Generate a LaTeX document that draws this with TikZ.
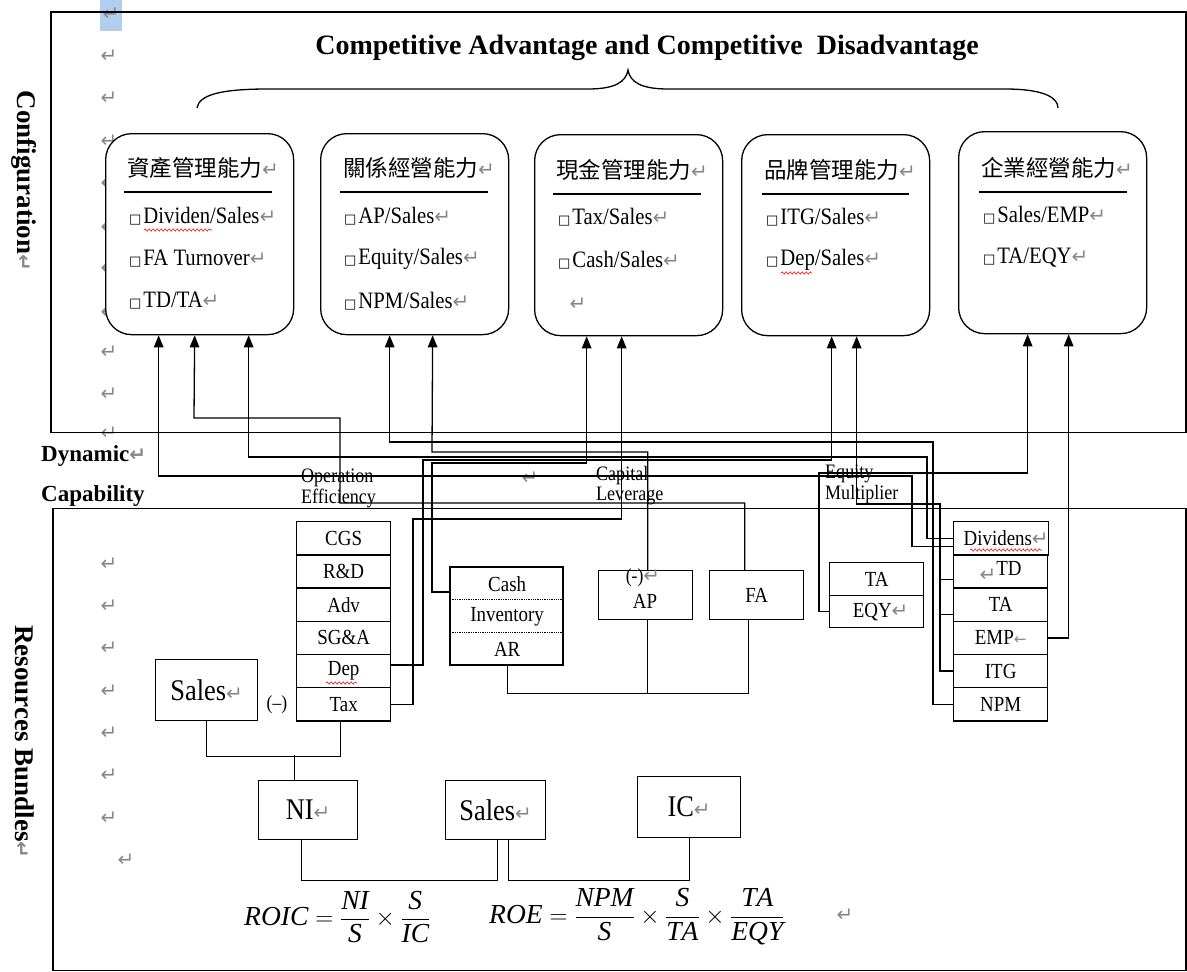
\documentclass[tikz,border=0pt]{standalone}
\usepackage{fontspec}
\setmainfont{Liberation Serif}
\newfontfamily\nar[FakeStretch=0.88]{Liberation Serif}
\newfontfamily\cjkf{Noto Sans CJK TC}
\newfontfamily\symf{DejaVu Sans}
\usetikzlibrary{arrows.meta,decorations.pathmorphing}
\definecolor{markgray}{RGB}{135,135,135}
\definecolor{selblue}{RGB}{178,206,238}
\newcommand\mk{{\symf\fontsize{20}{20}\selectfont\textcolor{markgray}{↵}}}
\newcommand\lmk{{\symf\fontsize{15}{15}\selectfont\textcolor{markgray}{←}}}
\newcommand\sq{{\symf\fontsize{13}{13}\selectfont □}\hspace{2pt}}
\begin{document}
\begin{tikzpicture}[x=1pt,y=-1pt,
  ln/.style={line width=1.3pt},
  arr/.style={ln,-{Triangle[length=12pt,width=9.5pt]}},
  cbox/.style={draw,fill=white,line width=1.3pt,rounded corners=26pt,minimum width=188pt,minimum height=201pt,anchor=north west,inner sep=0pt},
  cell/.style={draw,line width=1.3pt,minimum width=94pt,minimum height=33.2pt,inner sep=0pt,anchor=north west,font=\nar\fontsize{21.5}{21.5}\selectfont},
  big/.style={draw,line width=1.3pt,inner sep=0pt,anchor=north west,font=\nar\fontsize{30}{30}\selectfont},
  ctitle/.style={anchor=west,inner sep=0pt,font=\cjkf\fontsize{22.5}{22.5}\selectfont},
  item/.style={anchor=west,inner sep=0pt,font=\nar\fontsize{23.5}{23.5}\selectfont},
  lab/.style={anchor=north west,inner sep=0pt,align=left,font=\nar\fontsize{20.5}{20.5}\selectfont},
  side/.style={inner sep=0pt,font=\bfseries\fontsize{27}{27}\selectfont},
  dyn/.style={anchor=west,inner sep=0pt,font=\bfseries\fontsize{23}{23}\selectfont},
  pmark/.style={inner sep=0pt},
  wave/.style={red,line width=0.6pt,decorate,decoration={snake,amplitude=1.1pt,segment length=4pt}},
  form/.style={anchor=west,inner sep=0pt,font=\fontsize{27.5}{27.5}\selectfont}
]
\useasboundingbox (0,0) rectangle (1187,972);

% selection highlight and paragraph marks
\fill[selblue] (100,0) rectangle (122,31);
\node[pmark] at (111,14) {\mk};
\foreach \yy in {56,98,141,183,227,268,312,352,394,564,606,648,691,733,775,818}
  \node[pmark] at (109,\yy) {\mk};
\node[pmark] at (109,433) {\mk};
\node[pmark] at (126,860) {\mk};
\node[pmark] at (530,478) {\mk};

% frames
\draw[ln] (51,12) rectangle (1186,432.7);
\draw[ln] (53,508.3) rectangle (1186,970.5);

% side labels
\node[side,rotate=-90] (conf) at (24,181) {Configuration\mk};
\node[side,rotate=-90] (resb) at (25,742) {Resources Bundles\mk};
\node[dyn] (dyn) at (41,456) {Dynamic\mk};
\node[dyn] (cap) at (41,496) {Capability};

% title and brace
\node[inner sep=0pt,font=\bfseries\fontsize{28}{28}\selectfont] (title) at (647,48) {Competitive Advantage and Competitive\ \ Disadvantage};
\draw[ln] (197,108) .. controls (199,95) and (220,89) .. (268,89) -- (588,89)
  .. controls (615,89) and (626,82) .. (628,70)
  .. controls (630,82) and (641,89) .. (668,89) -- (1005,89)
  .. controls (1045,89) and (1058,98) .. (1058,108);

% capability boxes
\node[cbox] (b1) at (105,133) {};
\node[cbox] (b2) at (320,133) {};
\node[cbox] (b3) at (534,134) {};
\node[cbox] (b4) at (741,134) {};
\node[cbox,minimum height=202pt] (b5) at (958,131) {};

\node[ctitle] (t1) at (127,168) {資產管理能力\mk};
\draw[ln] (124,192) -- (272,192);
\node[item] (i11) at (129,216) {\sq Dividen/Sales\mk};
\node[item] (i12) at (129,259) {\sq FA Turnover\mk};
\node[item] (i13) at (129,301) {\sq TD/TA\mk};

\node[ctitle] (t2) at (343,168) {關係經營能力\mk};
\draw[ln] (340,192) -- (488,192);
\node[item] (i21) at (344,216) {\sq AP/Sales\mk};
\node[item] (i22) at (344,259) {\sq Equity/Sales\mk};
\node[item] (i23) at (344,301) {\sq NPM/Sales\mk};

\node[ctitle] (t3) at (556,170) {現金管理能力\mk};
\draw[ln] (553,194) -- (701,194);
\node[item] (i31) at (558,217) {\sq Tax/Sales\mk};
\node[item] (i32) at (558,260) {\sq Cash/Sales\mk};
\node[pmark] at (578,304) {\mk};

\node[ctitle] (t4) at (764,170) {品牌管理能力\mk};
\draw[ln] (762,194) -- (909,194);
\node[item] (i41) at (766,217) {\sq ITG/Sales\mk};
\node[item] (i42) at (766,260) {\sq Dep/Sales\mk};

\node[ctitle] (t5) at (981,168) {企業經營能力\mk};
\draw[ln] (979,192) -- (1127,192);
\node[item] (i51) at (983,215) {\sq Sales/EMP\mk};
\node[item] (i52) at (983,258) {\sq TA/EQY\mk};

% cost column
\node[cell] (cgs) at (296,521) {CGS};
\node[cell] (rd) at (296,554.2) {R\&D};
\node[cell] (adv) at (296,587.4) {Adv};
\node[cell] (sga) at (296,620.6) {SG\&A};
\node[cell] (dep) at (296,653.8) {Dep};
\node[cell] (tax) at (296,687) {\raisebox{-4pt}{Tax}};
\node[inner sep=0pt,font=\nar\fontsize{20}{20}\selectfont] (minus) at (277,705) {(–)};

% cash box
\node[cell,draw=none,minimum width=113pt,minimum height=32.7pt] (cash) at (450,567) {\raisebox{-5pt}{Cash}};
\node[cell,draw=none,minimum width=113pt,minimum height=32.7pt] (inv) at (450,599.7) {Inventory};
\node[cell,draw=none,minimum width=113pt,minimum height=32.6pt] (ar) at (450,632.4) {AR};
\draw[ln] (450,567) rectangle (563,665);
\draw[line width=1.3pt,densely dotted] (450,599.7) -- (563,599.7);
\draw[line width=1.3pt,densely dotted] (450,632.4) -- (563,632.4);

% AP, FA
\node[cell,minimum height=49pt] (ap) at (598,570) {};
\node[inner sep=0pt,font=\nar\fontsize{20}{20}\selectfont] at (643,578) {(-)\mk};
\node[inner sep=0pt,font=\nar\fontsize{21.5}{21.5}\selectfont] at (645,601) {AP};
\node[cell,minimum height=49pt] (fa) at (709,570) {FA};

% TA / EQY
\node[cell,minimum height=33pt] (tat) at (829,562) {TA};
\node[cell,minimum height=32pt] (eqy) at (829,595) {\hspace{8pt}EQY\mk};

% right column
\node[cell] (div) at (953,521) {\hspace{10pt}Dividens\mk};
\node[cell] (td) at (953,554.2) {\raisebox{-6pt}{\mk}TD};
\node[cell] (ta2) at (953,587.4) {\raisebox{-3pt}{TA}};
\node[cell] (emp) at (953,620.6) {EMP\lmk};
\node[cell] (itg) at (953,653.8) {ITG};
\node[cell] (npm) at (953,687) {\raisebox{-3pt}{NPM}};

% group labels
\node[lab] (opef) at (301,469) {Operation\\Efficiency};
\node[lab] (capl) at (596,466) {Capital\\Leverage};
\node[lab] (eqm) at (825,465) {Equity\\Multiplier};

% bottom boxes
\node[big,minimum width=102pt,minimum height=61pt] (s1) at (155,659) {Sales\mk};
\node[big,minimum width=99pt,minimum height=59pt] (ni) at (258,780) {NI\mk};
\node[big,minimum width=100pt,minimum height=59pt] (s2) at (445,780) {Sales\mk};
\node[big,minimum width=103pt,minimum height=61pt] (ic) at (637,776) {IC\mk};

% connectors to capability boxes
\draw[arr] ([yshift=-8pt]div.west) -| (912,476) -| ([xshift=-41pt]b1.south);
\draw[arr] ([xshift=-12pt]fa.north) |- (340,503) |- (194,418) -- ([xshift=-5pt]b1.south);
\draw[arr] (div.west) -| (927,457) -| ([xshift=49pt]b1.south);
\draw[arr] (npm.west) -| (933,442) -| ([xshift=-25pt]b2.south);
\draw[arr] ([xshift=2pt]ap.north) |- (432,452) -- ([xshift=18pt]b2.south);
\draw[arr] ([yshift=-8pt]cash.west) -| (432,463) -| ([xshift=-42pt]b3.south);
\draw[arr] (tax.east) -| (413,519) -| ([xshift=-7pt]b3.south);
\draw[arr] ([yshift=6pt]dep.east) -| (423,460) -| ([xshift=-4pt]b4.south);
\draw[arr] (itg.west) -| (940,504) -| ([xshift=21pt]b4.south);
\draw[ln] ([yshift=-8pt]td.west) -- ++(-13,0);
\draw[ln] ([yshift=-10pt]ta2.west) -- ++(-13,0);
\draw[arr] (eqy.west) -| (819,473) -| ([xshift=-25pt]b5.south);
\draw[arr] (emp.east) -| ([xshift=16pt]b5.south);

% lower connectors
\draw[ln] (ar.south) -- ++(0,27) -| ([xshift=-8pt]fa.south);
\draw[ln] ([xshift=2pt]ap.south) -- ++(0,73);
\draw[ln] (s1.south) -- ++(0,35) -| ([xshift=-3pt]tax.south);
\draw[ln] ([xshift=-14pt]ni.north) -- ++(0,-25);
\draw[ln] ([xshift=-7pt]ni.south) -- ++(0,40) -| ([xshift=2pt]s2.south);
\draw[ln] ([xshift=13pt]s2.south) -- ++(0,40) -| (ic.south);

% spelling waves
\draw[wave] (144,230) -- (212,230);
\draw[wave] (781,273) -- (812,273);
\draw[wave] (970,550) -- (1042,550);
\draw[wave] (326,683) -- (357,683);

% formulas
\node[form] (roic) at (244,917) {$\mathit{ROIC}=\displaystyle\frac{\mathit{NI}}{\mathit{S}}\times\frac{\mathit{S}}{\mathit{IC}}$};
\node[form] (roe) at (489,917) {$\mathit{ROE}=\displaystyle\frac{\mathit{NPM}}{\mathit{S}}\times\frac{\mathit{S}}{\mathit{TA}}\times\frac{\mathit{TA}}{\mathit{EQY}}$};
\node[pmark] at (845,915) {\mk};
\end{tikzpicture}
\end{document}
